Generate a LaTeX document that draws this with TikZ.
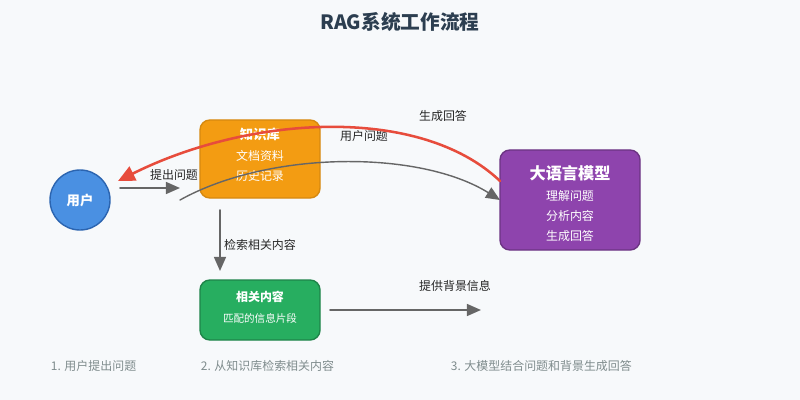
\documentclass[tikz,border=0pt]{standalone}
\usepackage{fontspec}
\setmainfont{Noto Sans CJK SC}
\usetikzlibrary{arrows.meta,positioning}

\definecolor{bgcol}{HTML}{F7F9FB}
\definecolor{titlecol}{HTML}{2C3E50}
\definecolor{usercol}{HTML}{4A90E2}
\definecolor{userdark}{HTML}{2B64B0}
\definecolor{kbcol}{HTML}{F39C12}
\definecolor{kbdark}{HTML}{D68910}
\definecolor{llmcol}{HTML}{8E44AD}
\definecolor{llmdark}{HTML}{6C3483}
\definecolor{relcol}{HTML}{27AE60}
\definecolor{reldark}{HTML}{1E8449}
\definecolor{flowcol}{HTML}{666666}
\definecolor{backcol}{HTML}{E74C3C}
\definecolor{notecol}{HTML}{7F8C8D}

\tikzset{
  box/.style={rounded corners=7pt, line width=1pt, text=white, align=center,
    font=\fontsize{8.5}{14}\selectfont\bfseries, inner sep=0pt},
  flow/.style={-{Triangle[length=10pt,width=8.5pt]}, flowcol, line width=1.2pt},
  lbl/.style={font=\fontsize{8.5}{10}\selectfont, text=black!85},
  note/.style={font=\fontsize{8.5}{10}\selectfont, text=notecol, anchor=west}
}

\begin{document}
\begin{tikzpicture}[x=0.025cm, y=-0.025cm, line join=round, line cap=round]
    \fill[bgcol] (0,0) rectangle (800,400);
    \node[font=\fontsize{14}{16}\selectfont\bfseries, text=titlecol] (title) at (400,22) {RAG系统工作流程};

    % nodes
    \node[circle, fill=usercol, draw=userdark, line width=1pt, minimum size=1.5cm,
      text=white, font=\fontsize{9.5}{10}\selectfont\bfseries] (user) at (80,200) {用户};
    \draw[box, fill=kbcol, draw=kbdark] (200,120) rectangle (320,198);
    \node[box, font=\fontsize{9.5}{10}\selectfont\bfseries] (kb) at (260,134) {知识库};
    \node[box, font=\fontsize{8.5}{14}\selectfont] (kbtxt) at (260,166) {文档资料\\历史记录};
    \draw[box, fill=llmcol, draw=llmdark] (500,150) rectangle (640,250);
    \node[box, font=\fontsize{11.5}{14}\selectfont\bfseries] (llm) at (570,173) {大语言模型};
    \node[box, font=\fontsize{8.5}{14}\selectfont] (llmtxt) at (570,216) {理解问题\\分析内容\\生成回答};
    \draw[box, fill=relcol, draw=reldark] (200,280) rectangle (320,340);
    \node[box] (rel) at (260,297) {相关内容};
    \node[box, font=\fontsize{7.5}{10}\selectfont] (reltxt) at (260,318) {匹配的信息片段};

    % connector ends
    \coordinate (ask0) at (120,188);
    \coordinate (ask1) at (180,188);
    \coordinate (q0) at (180,200);
    \coordinate (q1) at (500,200);
    \coordinate (a0) at (500,181);
    \coordinate (a1) at (118,181);
    \coordinate (r0) at (220,210);
    \coordinate (r1) at (220,271);
    \coordinate (c0) at (330,310);
    \coordinate (c1) at (481,310);

    % connectors
    \draw[flow] (ask0) -- (ask1);
    \node[lbl] (asklbl) at (174,175) {提出问题};
    \draw[flow, line width=1pt] (q0) .. controls (270,150) and (420,150) .. (q1);
    \node[lbl] (qlbl) at (364,136) {用户问题};
    \draw[flow, backcol, line width=1.8pt, -{Triangle[length=12pt,width=11pt]}] (a0) .. controls (420,105) and (250,115) .. (a1);
    \node[lbl] (albl) at (443,116) {生成回答};
    \draw[flow] (r0) -- (r1);
    \node[lbl] (rlbl) at (260,245) {检索相关内容};
    \draw[flow] (c0) -- (c1);
    \node[lbl] (clbl) at (455,286) {提供背景信息};

    % steps
    \node[note] (s1) at (46,366) {1. 用户提出问题};
    \node[note] (s2) at (196,366) {2. 从知识库检索相关内容};
    \node[note] (s3) at (446,366) {3. 大模型结合问题和背景生成回答};
  \end{tikzpicture}
\end{document}
